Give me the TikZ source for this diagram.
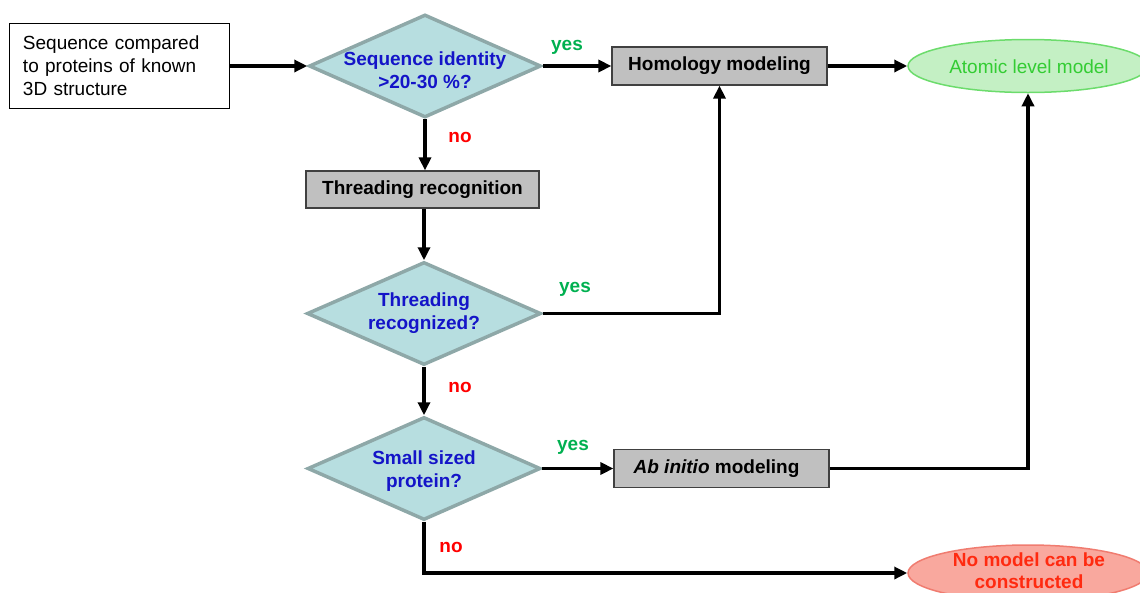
\documentclass[tikz,border=0pt]{standalone}
\usepackage{fontspec}
\setmainfont{Liberation Sans}
\usetikzlibrary{shapes.geometric,arrows.meta}
\definecolor{diafill}{HTML}{B7DEE0}
\definecolor{diadraw}{HTML}{8EA8A8}
\definecolor{qblue}{HTML}{1414C8}
\definecolor{yesgreen}{HTML}{00B050}
\definecolor{nored}{HTML}{FF0000}
\definecolor{boxgray}{HTML}{C0C0C0}
\definecolor{atomfill}{HTML}{C4F0C4}
\definecolor{atomdraw}{HTML}{6CDC6C}
\definecolor{atomtext}{HTML}{33CC33}
\definecolor{nofill}{HTML}{F9A89E}
\definecolor{nodraw}{HTML}{F07C70}
\definecolor{notext}{HTML}{FF2A10}
\begin{document}
\begin{tikzpicture}[x=1pt,y=-1pt,
  every node/.style={font=\fontsize{19}{23}\selectfont},
  startbox/.style={draw=black,line width=1pt,fill=white,text width=192pt,inner xsep=14pt,inner ysep=0pt,minimum height=85pt,align=left},
  dia/.style={diamond,draw=diadraw,fill=diafill,line width=3.5pt,inner sep=0pt,minimum width=232pt,minimum height=103pt},
  qtext/.style={font=\fontsize{19}{23}\selectfont\bfseries,text=qblue,align=center,inner sep=0pt},
  graybox/.style={draw=black!75,line width=1.2pt,fill=boxgray,inner sep=0pt,font=\fontsize{19}{23}\selectfont\bfseries,minimum height=38pt},
  oval/.style={ellipse,line width=1.5pt,inner sep=0pt,minimum width=240pt,minimum height=53pt},
  yeslab/.style={font=\fontsize{19}{23}\selectfont\bfseries,text=yesgreen,inner sep=0pt},
  nolab/.style={font=\fontsize{19}{23}\selectfont\bfseries,text=nored,inner sep=0pt},
  flow/.style={line width=3.6pt,-{Triangle[length=13pt,width=12pt]}},
  plain/.style={line width=3.6pt}]
\useasboundingbox (0,0) rectangle (1140,592);
\clip (0,0) rectangle (1140,592);

% nodes
\node[startbox] (start) at (119,66) {Sequence compared\\to proteins of known\\3D structure};
\node[dia] (d1) at (425,66) {};
\node[qtext] (d1t) at (425,70) {Sequence identity\\>20-30 \%?};
\node[graybox,minimum width=215pt] (hom) at (719.5,66) {Homology modeling};
\node[oval,draw=atomdraw,fill=atomfill] (atom) at (1028,66) {};
\node[text=atomtext,inner sep=0pt] (atomt) at (1029,67) {Atomic level model};

\node[graybox,minimum width=233pt,minimum height=37pt] (thr) at (422.5,189.5) {Threading recognition};

\node[dia,minimum width=234pt] (d2) at (424,313.5) {};
\node[qtext] (d2t) at (424,313) {Threading\\recognized?};

\node[dia,minimum width=233pt] (d3) at (424,468.5) {};
\node[qtext] (d3t) at (424,471) {Small sized\\protein?};
\node[graybox,minimum width=215pt] (ab) at (721.5,468.5) {\textit{Ab initio} modeling\hspace*{10pt}};

\node[oval,draw=nodraw,fill=nofill,minimum height=56pt] (nom) at (1028,573) {};
\node[font=\fontsize{19}{22}\selectfont\bfseries,text=notext,align=center,inner sep=0pt] (nomt) at (1029,571) {No model can be\\constructed};

% labels
\node[yeslab] (y1) at (567,47) {yes};
\node[yeslab] (y2) at (575,289) {yes};
\node[yeslab] (y3) at (573,447) {yes};
\node[nolab] (n1) at (460,137) {no};
\node[nolab] (n2) at (460,387) {no};
\node[nolab] (n3) at (451,547) {no};

% connectors
\draw[flow] (start.east) -- (d1.west);
\draw[flow] (d1.east) -- (hom.west);
\draw[flow] (hom.east) -- (atom.west);
\draw[flow] (d1.south) -- (thr.north -| d1.south);
\draw[flow] (thr.south -| d2.north) -- (d2.north);
\draw[flow] (d2.east) -| (hom.south);
\draw[flow] (d2.south) -- (d3.north);
\draw[flow] (d3.east) -- (ab.west);
\draw[flow] (ab.east) -| (atom.south);
\draw[flow] (d3.south) |- (nom.west);
\end{tikzpicture}
\end{document}
